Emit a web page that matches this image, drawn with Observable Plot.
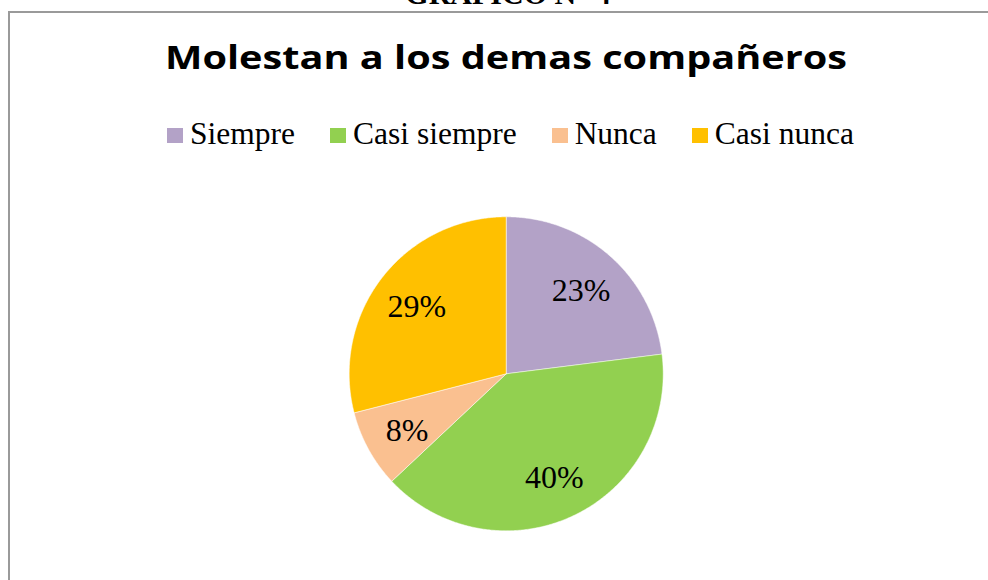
<!DOCTYPE html>
<html>
<head>
<meta charset="utf-8">
<script src="https://cdn.jsdelivr.net/npm/d3@7"></script>
<script src="https://cdn.jsdelivr.net/npm/@observablehq/plot@0.6"></script>
<style>
  html, body { margin: 0; padding: 0; background: #fff; }
  #page { position: relative; width: 988px; height: 580px; overflow: hidden; background: #fff; }
  #frame { position: absolute; left: 8px; top: 11px; width: 1200px; height: 800px;
           border-top: 2px solid #9a9a9a; border-left: 2px solid #9a9a9a; box-sizing: border-box; }
  #heading { position: absolute; left: 14px; width: 988px; top: -21px; text-align: center;
             font-family: "Liberation Serif", serif; font-weight: bold; font-size: 30px; line-height: 30px; color: #000; white-space: nowrap; }
  #title { position: absolute; left: 165px; top: 41px; font-family: "Open Sans", sans-serif; font-weight: 700;
           font-size: 32px; line-height: 32px; color: #000; white-space: nowrap; transform-origin: 0 0; }
  #legend { position: absolute; left: 0; width: 1021px; top: 118px; display: flex; justify-content: center; align-items: center;
            font-family: "Liberation Serif", serif; font-size: 31.5px; line-height: 31px; color: #000; }
  .item { display: flex; align-items: center; margin-right: 35px; white-space: nowrap; }
  .item:last-child { margin-right: 0; }
  .sw { width: 16px; height: 15px; margin-right: 7px; margin-top: 4px; }
  #chart { position: absolute; left: 0; top: 160px; }
</style>
</head>
<body>
<div id="page">
  <div id="frame"></div>
  <div id="heading">GRÁFICO N° 4</div>
  <div id="title">Molestan a los demas compañeros</div>
  <div id="legend"></div>
  <div id="chart"></div>
</div>
<script>
const categories = ["Siempre", "Casi siempre", "Nunca", "Casi nunca"];
const values = [23, 40, 8, 29];
const colors = ["#B3A2C7", "#92D050", "#FAC090", "#FFC000"];
const labels = ["23%", "40%", "8%", "29%"];

// Fit title width
(function () {
  const t = document.getElementById("title");
  const w = t.getBoundingClientRect().width;
  const target = 682;
  t.style.transform = `scaleX(${target / w})`;
})();

// Legend
const legend = document.getElementById("legend");
categories.forEach((c, i) => {
  const it = document.createElement("div");
  it.className = "item";
  const sw = document.createElement("div");
  sw.className = "sw";
  sw.style.background = colors[i];
  const tx = document.createElement("span");
  tx.textContent = c;
  it.appendChild(sw);
  it.appendChild(tx);
  legend.appendChild(it);
});

// Pie geometry from data
const data = categories.map((c, i) => ({name: c, value: values[i], label: labels[i]}));
const arcs = d3.pie().sort(null).value(d => d.value)(data);
const pts = [];
arcs.forEach(a => {
  const n = Math.max(2, Math.ceil((a.endAngle - a.startAngle) / (Math.PI / 360)));
  pts.push({name: a.data.name, x: 0, y: 0});
  for (let k = 0; k <= n; k++) {
    const t = a.startAngle + (a.endAngle - a.startAngle) * k / n;
    pts.push({name: a.data.name, x: Math.sin(t), y: Math.cos(t)});
  }
  pts.push({name: a.data.name, x: 0, y: 0});
});
const lr = 0.72;
const lab = arcs.map(a => {
  const m = (a.startAngle + a.endAngle) / 2;
  return {label: a.data.label, x: lr * Math.sin(m), y: lr * Math.cos(m)};
});

const W = 988, H = 420;
const cx = 505.7, cy = 373.3 - 160, R = 157;
const chart = Plot.plot({
  width: W,
  height: H,
  marginLeft: cx - R,
  marginRight: W - (cx + R),
  marginTop: cy - R,
  marginBottom: H - (cy + R),
  x: {domain: [-1, 1], axis: null},
  y: {domain: [-1, 1], axis: null},
  color: {domain: categories, range: colors},
  style: {background: "transparent", overflow: "visible"},
  marks: [
    Plot.line(pts, {x: "x", y: "y", z: "name", fill: "name", stroke: "#ffffff", strokeWidth: 0.5, curve: "linear"}),
    Plot.text(lab, {x: "x", y: "y", text: "label", fontSize: 32, fontFamily: "Liberation Serif", fill: "#000", dy: 2})
  ]
});
document.getElementById("chart").appendChild(chart);
</script>
</body>
</html>
